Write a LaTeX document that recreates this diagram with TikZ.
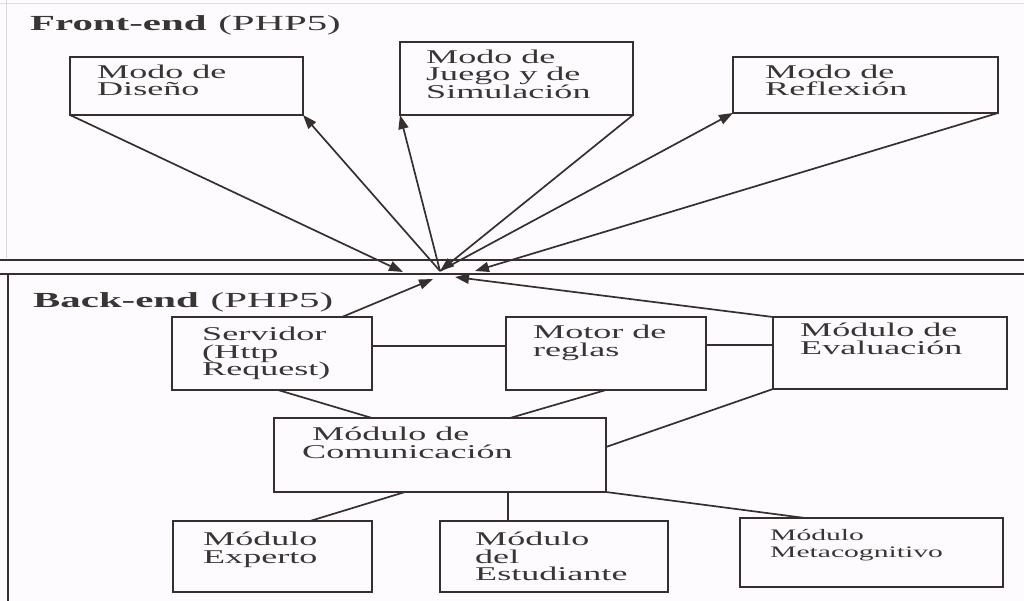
\documentclass[tikz,border=0pt]{standalone}
\usepackage{fontspec}
\setmainfont{Liberation Serif}[FakeStretch=1.85]
\newfontfamily\titlefont{Liberation Serif}[FakeStretch=1.9]
\usetikzlibrary{arrows.meta,calc}
\definecolor{ink}{RGB}{55,47,47}
\definecolor{txt}{RGB}{58,53,53}
\definecolor{paper}{RGB}{253,251,253}
\begin{document}
\begin{tikzpicture}[x=1pt,y=-1pt,
  box/.style={draw=ink,line width=2.2pt,inner sep=0pt,outer sep=0pt,anchor=north west},
  lbl/.style={anchor=north west,inner sep=0pt,align=left,text=txt,font=\fontsize{19.5}{17.8}\selectfont},
  smalllbl/.style={lbl,font=\fontsize{16}{17.5}\selectfont},
  sec/.style={anchor=base west,inner sep=0pt,text=txt,font=\titlefont\fontsize{21.5}{24}\selectfont},
  conn/.style={draw=ink,line width=1.7pt},
  arr/.style={conn,-{Triangle[length=14pt,width=10pt]}},
  sepline/.style={draw=ink,line width=1.7pt}]
\fill[paper] (0,0) rectangle (1024,601);
\useasboundingbox (0,0) rectangle (1024,601);
% frame lines
\draw[gray!25,line width=1pt] (0,4) -- (1024,4);
\draw[gray!30,line width=1pt] (6,0) -- (6,258);
\draw[sepline] (0,260) -- (1024,260);
\draw[sepline] (0,274) -- (1024,274);
\draw[sepline] (8,274) -- (8,601);
% titles
\node[sec] (fe) at (30,31) {\textbf{Front-end}\hspace{0.55em}(PHP5)};
\node[sec] (be) at (33,307) {\textbf{Back-end}\hspace{0.55em}(PHP5)};
% boxes
\node[box,minimum width=233pt,minimum height=58pt] (dis) at (70,57) {};
\node[box,minimum width=233pt,minimum height=73pt] (jue) at (400,42) {};
\node[box,minimum width=265pt,minimum height=56pt] (refl) at (733,57) {};
\node[box,minimum width=200pt,minimum height=73pt] (serv) at (172,317) {};
\node[box,minimum width=200pt,minimum height=73pt] (mot) at (506,317) {};
\node[box,minimum width=234pt,minimum height=72pt] (eva) at (773,317) {};
\node[box,minimum width=332pt,minimum height=74pt] (com) at (274,418) {};
\node[box,minimum width=199pt,minimum height=71pt] (exp) at (173,521) {};
\node[box,minimum width=228pt,minimum height=71pt] (est) at (440,521) {};
\node[box,minimum width=263pt,minimum height=69pt] (met) at (740,518) {};
% texts
\node[lbl] (tdis) at (97,62) {\rule{0pt}{16pt}Modo de\\Diseño};
\node[lbl] (tjue) at (426,47) {\rule{0pt}{16pt}Modo de\\Juego y de\\Simulación};
\node[lbl] (trefl) at (765,62) {\rule{0pt}{16pt}Modo de\\Reflexión};
\node[lbl] (tserv) at (202,324) {\rule{0pt}{16pt}Servidor\\(Http\\Request)};
\node[lbl] (tmot) at (533,322) {\rule{0pt}{16pt}Motor de\\reglas};
\node[lbl] (teva) at (800,320) {\rule{0pt}{16pt}Módulo de\\Evaluación};
\node[lbl] (tcom) at (302,424) {\rule{0pt}{16pt}\hspace*{10pt}Módulo de\\Comunicación};
\node[lbl] (texp) at (203,529) {\rule{0pt}{16pt}Módulo\\Experto};
\node[lbl] (test) at (475,529) {\rule{0pt}{16pt}Módulo\\del\\Estudiante};
\node[smalllbl] (tmet) at (770,527) {\rule{0pt}{13pt}Módulo\\Metacognitivo};
% hub coordinates
\coordinate (hub) at (440,271);
\coordinate (pdis) at (403,272);
\coordinate (pserv) at (433,279);
\coordinate (peva) at (455,277);
\coordinate (prefl) at (475,271);
% front-end connectors
\draw[arr] (dis.south west) -- (pdis);
\draw[arr] (hub) -- (dis.south east);
\draw[arr] (hub) -- (jue.south west);
\draw[arr] (jue.south east) -- (hub);
\draw[arr] (hub) -- (refl.south west);
\draw[arr] (refl.south east) -- (prefl);
\draw[arr] ($(serv.north east)+(-30,0)$) -- (pserv);
\draw[arr] (eva.north west) -- (peva);
% back-end connectors
\draw[conn] ($(serv.north east)+(0,29)$) -- ($(mot.north west)+(0,29)$);
\draw[conn] ($(mot.north east)+(0,28)$) -- ($(eva.north west)+(0,28)$);
\draw[conn] ($(serv.south west)+(106,0)$) -- ($(com.north west)+(98,0)$);
\draw[conn] (mot.south) -- ($(com.north west)+(236,0)$);
\draw[conn] (eva.south west) -- ($(com.north east)+(0,29)$);
\draw[conn] ($(com.south west)+(131,0)$) -- ($(exp.north west)+(137,0)$);
\draw[conn] ($(com.south west)+(234,0)$) -- ($(est.north west)+(68,0)$);
\draw[conn] (com.south east) -- ($(met.north west)+(65,0)$);
\end{tikzpicture}
\end{document}
